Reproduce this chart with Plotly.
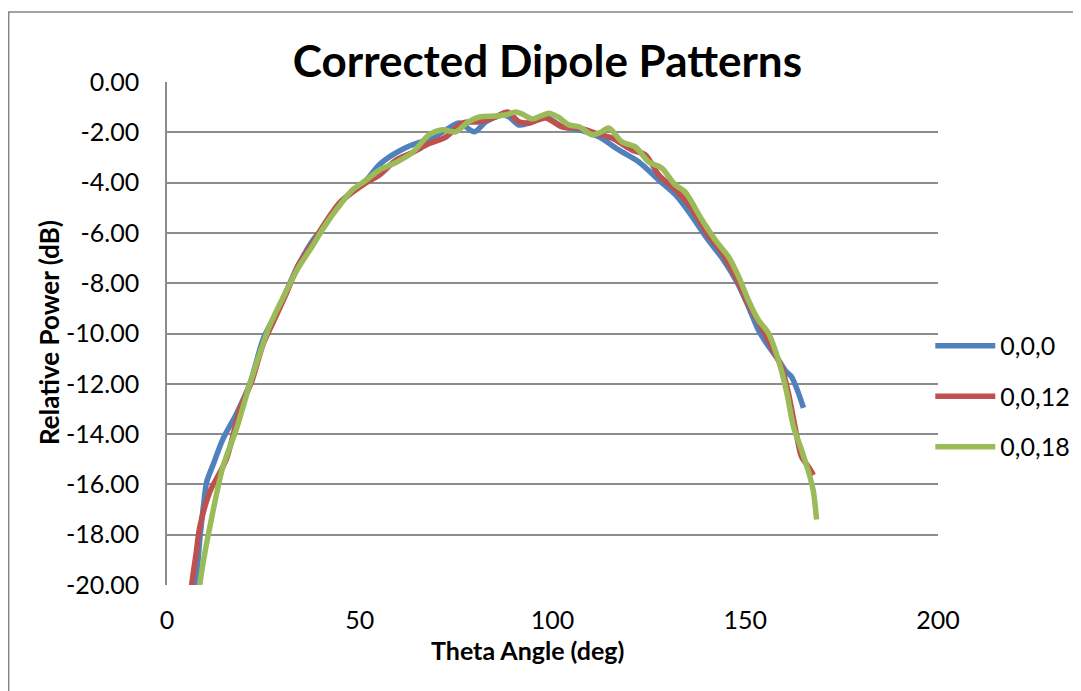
import plotly.graph_objects as go

# ---- data ----
theta_000 = [6.8, 7.5, 8.5, 9.5, 10.3, 12, 14.5, 18, 21.5, 25, 28, 31, 34, 37.8, 41, 44.8, 47,
             51.7, 55, 58.5, 62, 65.5, 68, 72.4, 75.8, 79.7, 82.7, 87, 88.7, 91.3, 93.9, 98.2,
             102.5, 106.9, 112, 117.2, 122.4, 127.6, 132, 136, 140, 144, 148, 151, 153.4, 156,
             158.6, 160.5, 162, 163.8, 165.1]
power_000 = [-21.0, -20.0, -18.2, -16.8, -15.9, -15.2, -14.2, -13.2, -12.0, -10.2, -9.3, -8.3, -7.3,
             -6.3, -5.7, -4.8, -4.5, -3.9, -3.3, -2.9, -2.6, -2.4, -2.3, -1.9, -1.63, -1.98, -1.58,
             -1.3, -1.38, -1.71, -1.63, -1.39, -1.78, -1.9, -2.18, -2.7, -3.18, -3.9, -4.5, -5.3,
             -6.2, -7.0, -8.0, -9.0, -9.86, -10.5, -11.05, -11.5, -11.72, -12.37, -12.96]

theta_0012 = [6.0, 6.4, 7.5, 8.5, 11.1, 15.4, 18.9, 22, 25, 28, 31, 34, 37.8, 41, 44.8, 48, 51.7,
              55.1, 59.4, 63.7, 68, 72.4, 76.6, 81, 85.3, 88.3, 91.3, 93.9, 98.2, 102.5, 106.9,
              111.2, 115.4, 120.6, 124.1, 127.6, 132, 136, 140, 144, 148, 151, 154.2, 157, 159.4,
              161.2, 162.9, 164.6, 166.4, 167.7]
power_0012 = [-21.0, -20.0, -18.8, -17.7, -16.3, -15.0, -13.0, -11.9, -10.4, -9.4, -8.4, -7.3, -6.4,
              -5.6, -4.8, -4.4, -4.0, -3.7, -3.1, -2.8, -2.45, -2.18, -1.63, -1.58, -1.39, -1.19,
              -1.58, -1.63, -1.43, -1.78, -1.83, -2.03, -2.23, -2.7, -2.9, -3.7, -4.3, -5.0, -6.0,
              -6.8, -7.9, -8.9, -9.74, -10.6, -11.33, -12.37, -13.7, -14.9, -15.3, -15.63]

theta_0018 = [8.0, 8.5, 9.5, 11.1, 14.5, 18, 21.5, 26.6, 31, 34, 37.8, 41, 44.8, 48, 51.7, 55.1,
              59.4, 63.7, 68, 71.4, 74.9, 78, 81, 85.3, 88, 90.5, 92.5, 94.7, 97, 99.1, 101.5,
              104.3, 106.9, 110.3, 112.5, 114.6, 118, 121.5, 125, 128.3, 131.9, 134.4, 138.8,
              142.2, 145.7, 148.3, 150.8, 153.4, 156, 158.6, 160.8, 162.5, 164.6, 166.8, 167.7, 168.5]
power_0018 = [-21.0, -20.0, -19.0, -17.7, -15.3, -13.8, -12.0, -9.7, -8.3, -7.4, -6.5, -5.7, -4.9,
              -4.3, -3.9, -3.5, -3.2, -2.8, -2.1, -1.9, -1.98, -1.6, -1.39, -1.35, -1.3, -1.19, -1.3,
              -1.47, -1.35, -1.24, -1.4, -1.71, -1.78, -2.1, -2.0, -1.83, -2.38, -2.58, -3.18,
              -3.42, -4.1, -4.37, -5.49, -6.28, -6.96, -7.75, -8.67, -9.46, -9.98, -11.05, -12.37,
              -13.7, -14.63, -15.7, -16.3, -17.4]

series_names = ["0,0,0", "0,0,12", "0,0,18"]
series_colors = ["#4F81BD", "#C0504D", "#9BBB59"]

y_tick_values = [0, -2, -4, -6, -8, -10, -12, -14, -16, -18, -20]
y_tick_labels = ["0.00", "-2.00", "-4.00", "-6.00", "-8.00", "-10.00", "-12.00",
                 "-14.00", "-16.00", "-18.00", "-20.00"]
x_tick_values = [0, 50, 100, 150, 200]
x_tick_labels = ["0", "50", "100", "150", "200"]

FONT = "Lato, Calibri, Carlito, sans-serif"

fig = go.Figure()
for i, (xs, ys) in enumerate([(theta_000, power_000), (theta_0012, power_0012), (theta_0018, power_0018)]):
    fig.add_trace(go.Scatter(
        x=xs, y=ys, mode="lines", name=series_names[i], legendgroup=series_names[i],
        line=dict(color=series_colors[i], width=5.5, shape="spline", smoothing=0.8),
    ))

fig.update_layout(
    width=1081, height=691,
    margin=dict(l=159, r=151, t=74, b=114),
    paper_bgcolor="white", plot_bgcolor="white",
    font=dict(family=FONT, size=25, color="black"),
    title=dict(text="<b>Corrected Dipole Patterns</b>", x=0.499, xanchor="center",
               y=1 - 54 / 691, yanchor="middle", font=dict(size=44, family=FONT)),
    showlegend=True,
    legend=dict(x=0.99, xanchor="left", y=0.375, yanchor="middle",
                font=dict(size=25, family=FONT), tracegroupgap=15, itemwidth=60,
                traceorder="grouped", bgcolor="rgba(0,0,0,0)"),
    shapes=[dict(type="rect", xref="paper", yref="paper", x0=-0.2053, x1=1.4, y0=-0.4, y1=1.1392,
                 line=dict(color="#868686", width=1.5), layer="below")],
    annotations=[
        dict(text="<b>Theta Angle (deg)</b>", xref="paper", yref="paper",
             x=(527 - 167) / 771, y=(585 - 650) / 503, xanchor="center", yanchor="middle",
             showarrow=False, font=dict(size=25, family=FONT)),
        dict(text="<b>Relative Power (dB)</b>", xref="paper", yref="paper", textangle=-90,
             x=(49 - 167) / 771, y=(585 - 332) / 503, xanchor="center", yanchor="middle",
             showarrow=False, font=dict(size=26, family=FONT)),
    ],
)
fig.update_xaxes(range=[0, 200], tickvals=x_tick_values, ticktext=x_tick_labels,
                 showgrid=False, zeroline=False, showline=False, ticks="", ticklabelstandoff=18)
fig.update_yaxes(range=[-20, 0], tickvals=y_tick_values, ticktext=y_tick_labels, showgrid=True,
                 gridcolor="#8C8C8C", gridwidth=1.5, zeroline=False,
                 showline=True, linecolor="#8C8C8C", linewidth=1.5, ticks="",
                 ticklabelstandoff=21)

fig.write_html("out.html")
